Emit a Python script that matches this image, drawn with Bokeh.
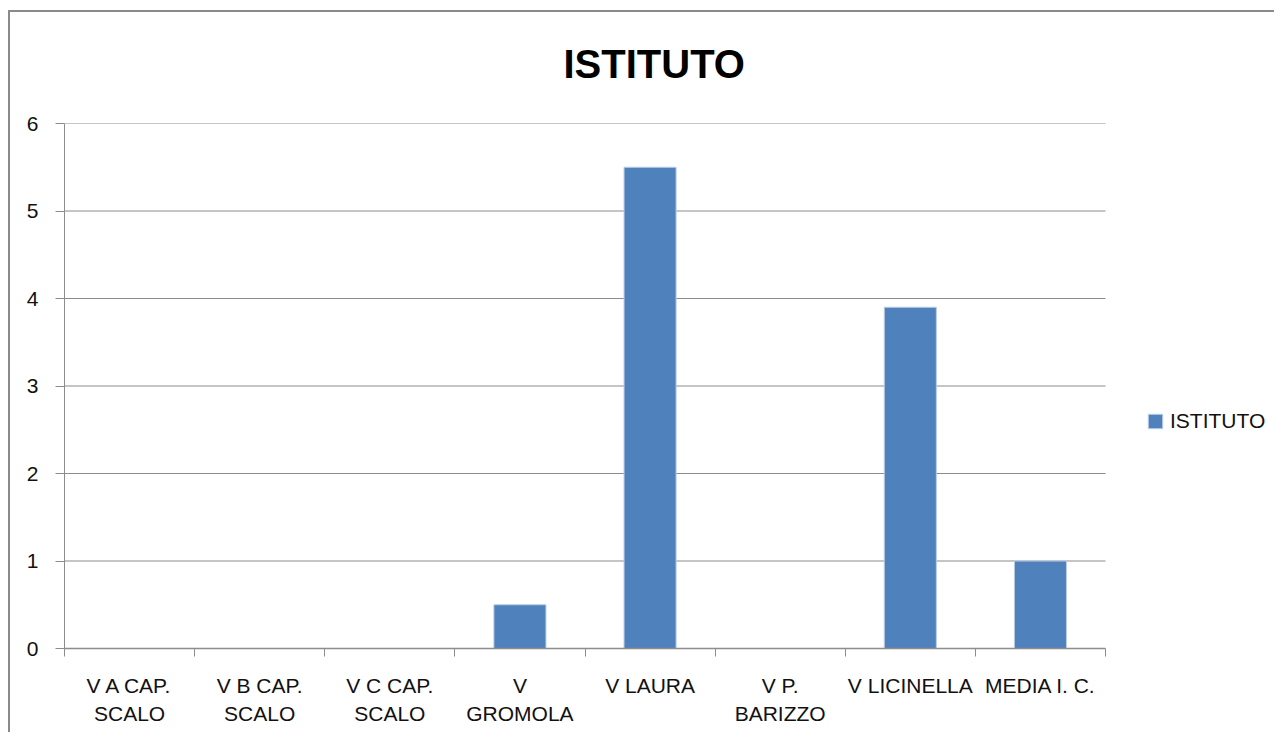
import numpy as np
from bokeh.plotting import figure
from bokeh.models import (ColumnDataSource, FixedTicker, Range1d, Legend, LegendItem)
from bokeh.embed import file_html
from bokeh.resources import INLINE

categories = ["V A CAP. SCALO", "V B CAP. SCALO", "V C CAP. SCALO", "V GROMOLA",
              "V LAURA", "V P. BARIZZO", "V LICINELLA", "MEDIA I. C."]
tick_labels = ["V A CAP.\nSCALO", "V B CAP.\nSCALO", "V C CAP.\nSCALO", "V\nGROMOLA",
               "V LAURA", "V P.\nBARIZZO", "V LICINELLA", "MEDIA I. C."]
values = [0, 0, 0, 0.5, 5.5, 0, 3.9, 1.0]
y_ticks = [0, 1, 2, 3, 4, 5, 6]
series_name = "ISTITUTO"

FONT = "Liberation Sans"
BAR = "#4F81BD"
GRID = "#8c8c8c"

# layout (pixels)
W, H = 1274, 732
LEFT, TOP, BOTTOM = 64, 123, 84
PLOT_W = 1041           # width of the category area; legend sits to its right
FRAME_W = W - LEFT

n = len(categories)
xc = np.arange(n) + 0.5
src = ColumnDataSource(dict(x=xc, top=values, cat=categories))

p = figure(width=W, height=H, output_backend="svg", toolbar_location=None,
           x_range=Range1d(0, n * FRAME_W / PLOT_W), y_range=Range1d(0, y_ticks[-1]),
           min_border_left=LEFT, min_border_right=0, min_border_top=TOP, min_border_bottom=BOTTOM)
p.styles = {"background": "white",
            "box-shadow": "inset 8px 10px 0 0 white, inset 10px 12px 0 0 #8a8a8a"}
p.outline_line_color = None
p.background_fill_color = "white"
p.border_fill_alpha = 0

# horizontal gridlines over the category area only
gsrc = ColumnDataSource(dict(y=y_ticks, x0=[0] * len(y_ticks), x1=[n] * len(y_ticks)))
p.segment(x0="x0", x1="x1", y0="y", y1="y", source=gsrc, line_color=GRID, line_width=1.2)

r = p.vbar(x="x", top="top", width=0.4, bottom=0, source=src,
           fill_color=BAR, line_color="#b9cde5", line_width=1)

# title
p.title.text = series_name
p.title.text_font = FONT
p.title.text_font_size = "40px"
p.title.text_font_style = "bold"
p.title.text_color = "black"
p.title.align = "left"
p.title.offset = 499
p.title.standoff = 76

# x axis: labels at category centers, tick marks at boundaries (minor ticks)
xa = p.xaxis[0]
xa.bounds = (0, n)
xa.ticker = FixedTicker(ticks=list(xc), minor_ticks=list(range(n + 1)))
xa.major_label_overrides = {float(x): lab for x, lab in zip(xc, tick_labels)}
xa.major_tick_out = 0
xa.major_tick_in = 0
xa.minor_tick_out = 8
xa.minor_tick_in = 0
xa.minor_tick_line_color = GRID
xa.axis_line_color = GRID
xa.axis_line_width = 1.5
xa.major_label_text_font = FONT
xa.major_label_text_font_size = "21px"
xa.major_label_text_color = "#111111"
xa.major_label_standoff = 17
xa.major_label_text_line_height = 1.25

ya = p.yaxis[0]
ya.ticker = FixedTicker(ticks=y_ticks)
ya.major_tick_out = 9
ya.major_tick_in = 0
ya.minor_tick_out = 0
ya.minor_tick_in = 0
ya.major_tick_line_color = GRID
ya.axis_line_color = GRID
ya.major_label_text_font = FONT
ya.major_label_text_font_size = "21px"
ya.major_label_text_color = "#111111"
ya.major_label_standoff = 17

p.xgrid.grid_line_color = None
p.ygrid.grid_line_color = None

legend = Legend(items=[LegendItem(label=series_name, renderers=[r])],
                location=(PLOT_W + 41, 215), orientation="vertical",
                glyph_width=18, glyph_height=18, label_standoff=6,
                label_text_font=FONT, label_text_font_size="21px", label_text_color="#111111",
                border_line_color=None, background_fill_alpha=0, padding=4, margin=0)
p.add_layout(legend)

open("out.html", "w").write(file_html(p, INLINE))
